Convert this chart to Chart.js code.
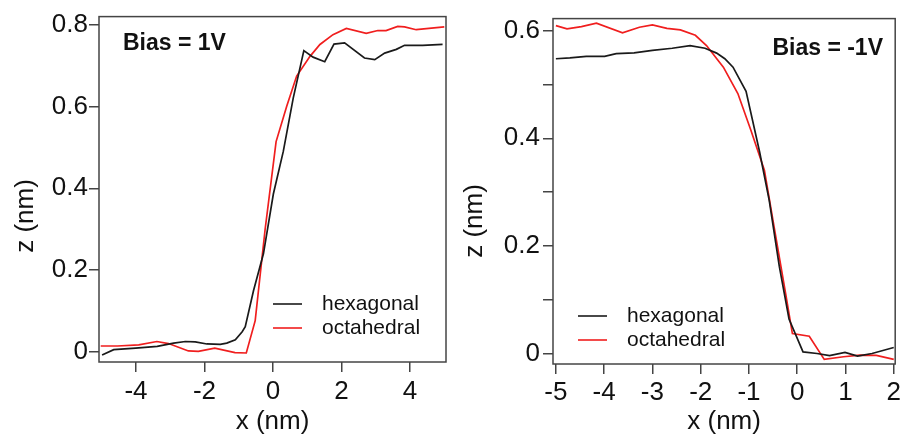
<!DOCTYPE html>
<html>
<head>
<meta charset="utf-8">
<script src="https://cdn.jsdelivr.net/npm/chart.js@4/dist/chart.umd.min.js"></script>
<style>
  body { margin: 0; background: #fff; }
  #wrap { position: relative; width: 904px; height: 439px; overflow: hidden; }
  canvas { position: absolute; top: 0; }
</style>
</head>
<body>
<div id="wrap">
  <canvas id="gauche" width="452" height="439" style="left:0"></canvas>
  <canvas id="droite" width="452" height="439" style="left:452px"></canvas>
</div>
<script>
// Bias = 1V
var hex1X = [-4.99, -4.65, -4.01, -3.38, -2.9, -2.56, -2.27, -1.93, -1.54, -1.35, -1.1, -0.9, -0.81, -0.57, -0.28, 0.01, 0.3, 0.59, 0.9, 1.17, 1.51, 1.78, 2.09, 2.67, 2.97, 3.26, 3.6, 3.84, 4.37, 4.95];
var hex1Y = [-0.007, 0.006, 0.01, 0.014, 0.022, 0.026, 0.025, 0.02, 0.019, 0.022, 0.03, 0.05, 0.062, 0.15, 0.24, 0.386, 0.49, 0.62, 0.736, 0.72, 0.709, 0.752, 0.755, 0.718, 0.714, 0.73, 0.739, 0.749, 0.749, 0.751];
var oct1X = [-5.03, -4.54, -3.92, -3.39, -3.05, -2.47, -2.18, -1.7, -1.11, -0.78, -0.52, -0.23, 0.09, 0.4, 0.69, 1.08, 1.37, 1.75, 2.14, 2.72, 3.06, 3.3, 3.64, 3.84, 4.18, 5.0];
var oct1Y = [0.015, 0.015, 0.018, 0.026, 0.021, 0.003, 0.002, 0.01, -0.001, -0.002, 0.077, 0.3, 0.514, 0.6, 0.674, 0.722, 0.751, 0.775, 0.79, 0.778, 0.785, 0.785, 0.795, 0.794, 0.787, 0.794];

// Bias = -1V
var hex2X = [-5.0, -4.71, -4.37, -3.99, -3.75, -3.38, -3.0, -2.59, -2.22, -1.91, -1.67, -1.5, -1.33, -1.06, -0.78, -0.58, -0.37, -0.17, 0.12, 0.41, 0.67, 0.99, 1.25, 1.55, 2.0];
var hex2Y = [0.5475, 0.549, 0.552, 0.552, 0.557, 0.5585, 0.563, 0.567, 0.572, 0.567, 0.558, 0.5475, 0.532, 0.487, 0.375, 0.285, 0.162, 0.065, 0.004, 0.001, -0.003, 0.003, -0.004, 0.001, 0.012];
var oct2X = [-5.0, -4.77, -4.47, -4.16, -3.62, -3.27, -3.0, -2.7, -2.42, -2.11, -1.88, -1.53, -1.23, -0.96, -0.68, -0.48, -0.24, -0.1, 0.25, 0.56, 0.96, 1.3, 1.64, 2.0];
var oct2Y = [0.609, 0.603, 0.607, 0.6135, 0.5955, 0.606, 0.6105, 0.604, 0.601, 0.591, 0.572, 0.532, 0.483, 0.415, 0.341, 0.236, 0.112, 0.038, 0.033, -0.01, -0.005, -0.002, -0.0025, -0.01];

var xTicks1 = 2, yTicks1 = 0.2;
var xTicks2 = 1, yTicks2 = 0.1;
var noms = ['hexagonal', 'octahedral'];
var couleurs = ['#1a1a1a', '#f01e1e'];

var police = '"Liberation Sans", Arial, sans-serif';
Chart.defaults.font.family = police;
Chart.defaults.color = '#111';

function points(xs, ys) {
    return xs.map(function(x, i) { return { x: x, y: ys[i] }; });
}

// cadre, titre vertical, note et legende dans le graphique
var cadre = {
    id: 'cadre',
    afterDraw: function(chart, args, o) {
        var a = chart.chartArea, ctx = chart.ctx;
        ctx.save();
        ctx.strokeStyle = '#444';
        ctx.lineWidth = 1.5;
        ctx.strokeRect(a.left, a.top, a.right - a.left, a.bottom - a.top);

        ctx.fillStyle = '#111';
        ctx.font = '26px ' + police;
        ctx.textAlign = 'center';
        ctx.textBaseline = 'middle';
        ctx.save();
        ctx.translate(o.titreX, o.titreY);
        ctx.rotate(-Math.PI / 2);
        ctx.fillText('z (nm)', 0, 0);
        ctx.restore();

        ctx.font = 'bold 23px ' + police;
        ctx.textAlign = o.noteAlign;
        ctx.textBaseline = 'alphabetic';
        ctx.fillText(o.note, o.noteX, o.noteY);

        ctx.font = '21px ' + police;
        ctx.textAlign = 'left';
        chart.data.datasets.forEach(function(ds, i) {
            var y = o.legY + i * 24;
            ctx.strokeStyle = ds.borderColor;
            ctx.lineWidth = 1.6;
            ctx.beginPath();
            ctx.moveTo(o.legX, y);
            ctx.lineTo(o.legX + 29, y);
            ctx.stroke();
            ctx.fillText(ds.label, o.legX + 49, y + 5.5);
        });
        ctx.restore();
    }
};

function axe(min, max, pas, pad, taille, vertical, titre, etiquette) {
    var s = {
        type: 'linear', min: min, max: max,
        border: { display: false },
        grid: { drawOnChartArea: false, drawTicks: true, tickLength: 10, color: '#444', lineWidth: 1.5 },
        ticks: { stepSize: pas, includeBounds: false, padding: pad, color: '#111', font: { size: 26 } },
        afterFit: function(sc) { if (vertical) sc.width = taille; else sc.height = taille; }
    };
    if (etiquette) s.ticks.callback = etiquette;
    if (titre) s.title = { display: true, text: titre, color: '#111', font: { size: 26 }, padding: { top: 0, bottom: 2 } };
    return s;
}

function graphique(id, hx, hy, ox, oy, xs, ys, pad, cadreOpts) {
    var ctx = document.getElementById(id).getContext('2d');
    return new Chart(ctx, {
        type: 'line',
        data: {
            datasets: [
                { label: noms[0], data: points(hx, hy), borderColor: couleurs[0], borderWidth: 1.7, pointRadius: 0, tension: 0 },
                { label: noms[1], data: points(ox, oy), borderColor: couleurs[1], borderWidth: 1.7, pointRadius: 0, tension: 0 }
            ]
        },
        options: {
            responsive: false,
            animation: false,
            layout: { padding: pad },
            plugins: { legend: { display: false }, tooltip: { enabled: false }, cadre: cadreOpts },
            scales: { x: xs, y: ys }
        },
        plugins: [cadre]
    });
}

graphique('gauche', hex1X, hex1Y, oct1X, oct1Y,
    axe(-5.08, 5.05, xTicks1, 4, 77, false, 'x (nm)'),
    axe(-0.024, 0.819, yTicks1, 1, 99, true),
    { left: 0, right: 6, top: 15, bottom: 0 },
    { titreX: 26, titreY: 216, note: 'Bias = 1V', noteX: 123, noteY: 50, noteAlign: 'left', legX: 273, legY: 304 });

graphique('droite', hex2X, hex2Y, oct2X, oct2Y,
    axe(-5.06, 2.03, xTicks2, 3, 75, false, 'x (nm)'),
    axe(-0.0185, 0.622, yTicks2, 3, 101, true, null, function(v) {
        var k = Math.round(v * 10);
        if (k % 2 !== 0) return '';
        return k === 0 ? '0' : (k / 10).toFixed(1);
    }),
    { left: 0, right: 5, top: 18, bottom: 0 },
    { titreX: 23, titreY: 221, note: 'Bias = -1V', noteX: 431, noteY: 55, noteAlign: 'right', legX: 126, legY: 316 });
</script>
</body>
</html>
